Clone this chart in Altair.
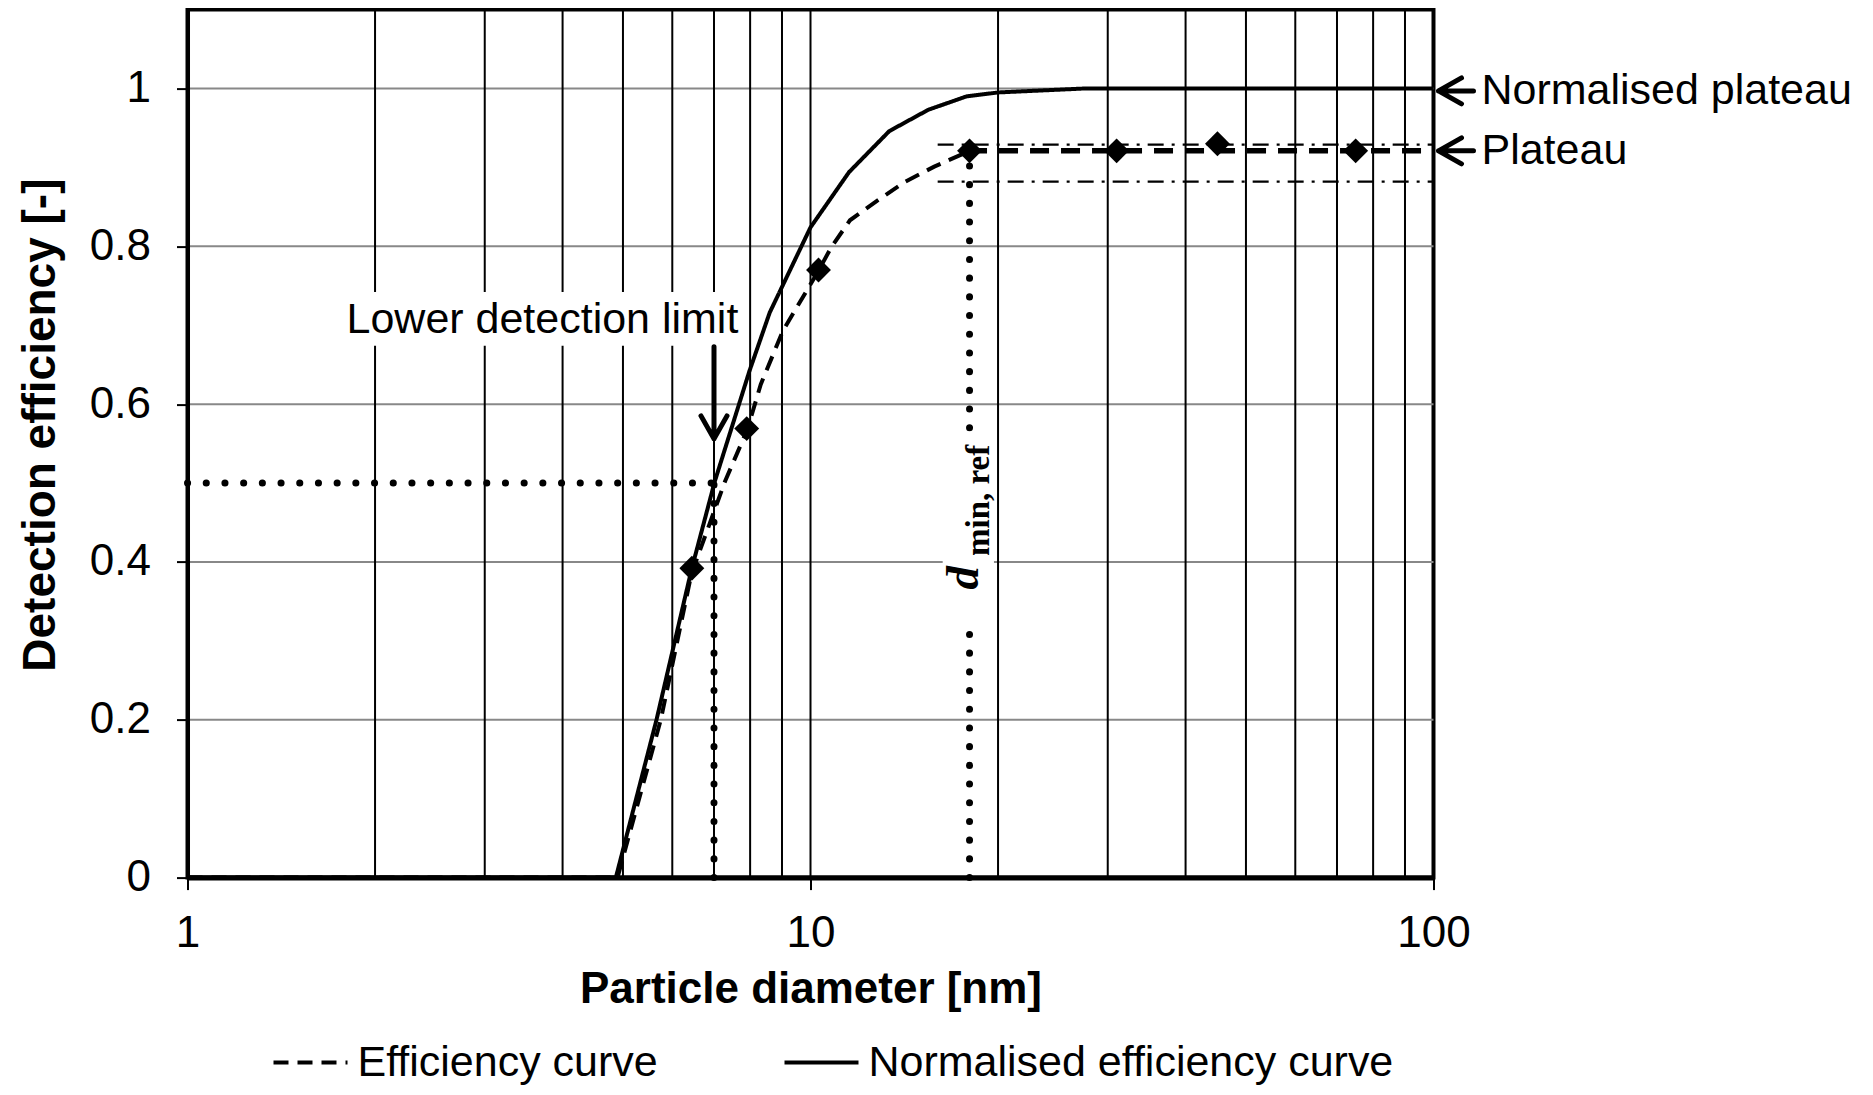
import altair as alt
import pandas as pd

FONT = "Liberation Sans"
SERIF = "Liberation Serif"

# ---- axes / grid values ----
x_tick_values = [1, 10, 100]
y_tick_values = [0, 0.2, 0.4, 0.6, 0.8, 1.0]
x_minor_lines = [2, 3, 4, 5, 6, 7, 8, 9, 10, 20, 30, 40, 50, 60, 70, 80, 90]
y_grid_lines = [0.2, 0.4, 0.6, 0.8, 1.0]

# ---- series ----
series_names = ["Efficiency curve", "Normalised efficiency curve"]
eff_x = [1, 4.9, 5.75, 6.44, 7.29, 7.92, 8.32, 9.03, 10.3, 10.8, 11.57, 12.8, 14.2, 15.8, 17.9]
eff_y = [0, 0, 0.2, 0.385, 0.502, 0.568, 0.625, 0.693, 0.769, 0.799, 0.833, 0.858, 0.882, 0.901, 0.92]
norm_x = [1, 4.87, 5.66, 6.44, 7.02, 7.98, 8.6, 10.0, 11.53, 13.38, 15.45, 17.8, 20.0, 27.5, 100]
norm_y = [0, 0, 0.2, 0.39, 0.502, 0.642, 0.716, 0.824, 0.894, 0.946, 0.973, 0.99, 0.995, 1.0, 1.0]
meas_x = [6.45, 7.9, 10.3, 18.0, 31.0, 45.0, 75.0]
meas_y = [0.392, 0.569, 0.77, 0.921, 0.921, 0.93, 0.921]

# ---- annotation values ----
plateau_y = 0.921
plateau_start = 17.9
band_start = 16.0
band_y = [0.929, 0.882]
d_lower = 7.0
d_ref = 18.0
dotted_x = [1, d_lower, d_ref, d_ref]
dotted_x2 = [d_lower, d_lower, d_ref, d_ref]
dotted_y = [0.5, 0.0, 0.0, 0.57]
dotted_y2 = [0.5, 0.5, 0.318, plateau_y]

xs = alt.Scale(type="log", domain=[1, 100], nice=False)
ys = alt.Scale(domain=[0, 1.1], nice=False, zero=False)

xaxis = alt.Axis(values=x_tick_values, format="~g", title="Particle diameter [nm]", grid=False,
                 domainColor="black", domainWidth=5, tickColor="black", tickWidth=2, tickSize=12,
                 labelFont=FONT, labelFontSize=44, labelColor="black", labelPadding=22,
                 labelFlush=False, labelOverlap=False,
                 titleFont=FONT, titleFontSize=44, titleFontWeight="bold", titleColor="black",
                 titleBaseline="alphabetic", titleY=125, zindex=1)
yaxis = alt.Axis(values=y_tick_values, format="~g", title="Detection efficiency [-]", grid=False,
                 domainColor="black", domainWidth=4, tickColor="black", tickWidth=2, tickSize=11,
                 labelFont=FONT, labelFontSize=44, labelColor="black", labelPadding=26,
                 labelOverlap=False,
                 titleFont=FONT, titleFontSize=46, titleFontWeight="bold", titleColor="black",
                 titleAngle=270, titleAlign="center", titleBaseline="alphabetic",
                 titleX=-133, titleY=415, zindex=1)


def X(f="x"):
    return alt.X(f"{f}:Q", scale=xs, axis=xaxis)


def Y(f="y"):
    return alt.Y(f"{f}:Q", scale=ys, axis=yaxis)


hgrid = alt.Chart(pd.DataFrame({"y": y_grid_lines})).mark_rule(
    color="#888888", strokeWidth=2).encode(y=Y())

dotted = alt.Chart(pd.DataFrame({"x": dotted_x, "x2": dotted_x2, "y": dotted_y, "y2": dotted_y2})).mark_rule(
    color="black", strokeWidth=7, strokeDash=[0.1, 18.6], strokeCap="round").encode(
    x=X(), x2="x2:Q", y=Y(), y2="y2:Q")

d_box = alt.Chart(pd.DataFrame({"x": [16.3], "x2": [19.7], "y": [0.322], "y2": [0.565]})).mark_rect(
    color="white").encode(x=X(), x2="x2:Q", y=Y(), y2="y2:Q")

vgrid = alt.Chart(pd.DataFrame({"x": x_minor_lines})).mark_rule(
    color="black", strokeWidth=2).encode(x=X())

ldl_box = alt.Chart(pd.DataFrame({"x": [1.75], "x2": [7.6], "y": [0.674], "y2": [0.742]})).mark_rect(
    color="white").encode(x=X(), x2="x2:Q", y=Y(), y2="y2:Q")

dashdot = alt.Chart(pd.DataFrame({"x": [band_start] * 2, "x2": [100] * 2, "y": band_y})).mark_rule(
    color="black", strokeWidth=2.2, strokeDash=[16, 8, 3, 8]).encode(x=X(), x2="x2:Q", y=Y())

curves_df = pd.concat([
    pd.DataFrame({"series": series_names[0], "x": eff_x, "y": eff_y, "o": range(len(eff_x))}),
    pd.DataFrame({"series": series_names[1], "x": norm_x, "y": norm_y, "o": range(len(norm_x))}),
])
curves = alt.Chart(curves_df).mark_line(color="black", strokeWidth=4).encode(
    x=X(), y=Y(), order="o:Q",
    strokeDash=alt.StrokeDash("series:N", scale=alt.Scale(domain=series_names, range=[[15, 9], [1, 0]]),
                              legend=alt.Legend(orient="none", legendX=84, legendY=1014, direction="horizontal",
                                                title=None, labelFont=FONT, labelFontSize=43, labelColor="black",
                                                symbolType="stroke", symbolSize=5476, symbolStrokeWidth=4,
                                                symbolStrokeColor="black", labelLimit=1000,
                                                columnPadding=118, labelOffset=8, padding=0)))

plateau = alt.Chart(pd.DataFrame({"x": [plateau_start], "x2": [100], "y": [plateau_y]})).mark_rule(
    color="black", strokeWidth=5.5, strokeDash=[19, 12]).encode(x=X(), x2="x2:Q", y=Y())

diamonds = alt.Chart(pd.DataFrame({"x": meas_x, "y": meas_y})).mark_point(
    shape="diamond", filled=True, size=620, color="black", opacity=1).encode(x=X(), y=Y())

down_arrow = alt.Chart(pd.DataFrame({"x": [d_lower], "y": [0.556]})).mark_point(
    shape="M -0.65 -1.15 L 0 0 L 0.65 -1.15 M 0 0 L 0 -4.6", filled=False, size=1600,
    color="black", strokeWidth=5, opacity=1, strokeCap="round", strokeJoin="round").encode(x=X(), y=Y())

left_arrows = alt.Chart(pd.DataFrame({"x": [100, 100], "y": [0.997, plateau_y]})).mark_point(
    shape="M 1.15 -0.65 L 0 0 L 1.15 0.65 M 0 0 L 1.75 0", filled=False, size=1600, xOffset=5,
    color="black", strokeWidth=5, opacity=1, strokeCap="round", strokeJoin="round").encode(x=X(), y=Y())

ldl_text = alt.Chart(pd.DataFrame({"x": [1.8], "y": [0.706], "t": ["Lower detection limit"]})).mark_text(
    font=FONT, fontSize=43, align="left", baseline="middle", color="black").encode(x=X(), y=Y(), text="t:N")

right_text = alt.Chart(pd.DataFrame({"x": [100, 100], "y": [0.997, plateau_y],
                                     "t": ["Normalised plateau", "Plateau"]})).mark_text(
    font=FONT, fontSize=43, align="left", baseline="middle", dx=48, color="black").encode(
    x=X(), y=Y(), text="t:N")

d_text = alt.Chart(pd.DataFrame({"x": [d_ref], "y": [0.38], "t": ["d"]})).mark_text(
    font=SERIF, fontSize=47, fontStyle="italic", fontWeight="bold", angle=270, align="center",
    baseline="alphabetic", dy=8, color="black").encode(x=X(), y=Y(), text="t:N")

sub_text = alt.Chart(pd.DataFrame({"x": [d_ref], "y": [0.478], "t": ["min, ref"]})).mark_text(
    font=SERIF, fontSize=33, fontWeight="bold", angle=270, align="center",
    baseline="alphabetic", dy=19, color="black").encode(x=X(), y=Y(), text="t:N")

chart = alt.layer(
    hgrid, dotted, d_box, vgrid, ldl_box, dashdot, curves, plateau, diamonds,
    down_arrow, left_arrows, ldl_text, right_text, d_text, sub_text
).properties(
    width=1246, height=868,
    padding={"left": 179.5, "top": 1.6, "right": 430, "bottom": 209},
    autosize=alt.AutoSizeParams(type="none"),
).configure_view(stroke="black", strokeWidth=4)

chart.save("out.html", embed_options={"renderer": "svg", "actions": False})
